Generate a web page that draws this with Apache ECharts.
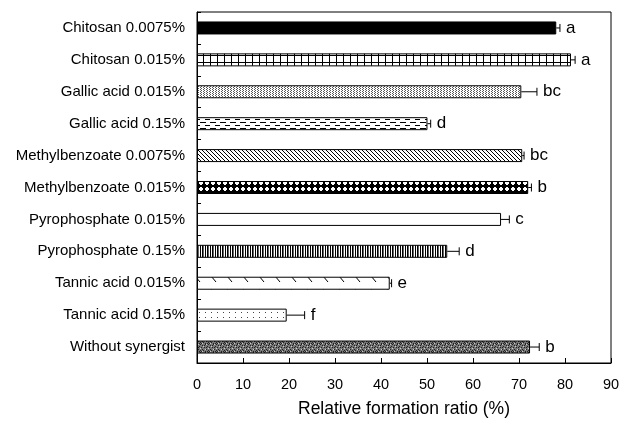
<!DOCTYPE html>
<html><head><meta charset="utf-8">
<script src="https://cdn.jsdelivr.net/npm/echarts@6/dist/echarts.min.js"></script>
<style>html,body{margin:0;padding:0;background:#fff}#c{width:632px;height:423px}</style>
</head><body><div id="c"></div>
<script>
const categories = ["Chitosan 0.0075%","Chitosan 0.015%","Gallic acid 0.015%","Gallic acid 0.15%","Methylbenzoate 0.0075%","Methylbenzoate 0.015%","Pyrophosphate 0.015%","Pyrophosphate 0.15%","Tannic acid 0.015%","Tannic acid 0.15%","Without synergist"];
const values = [78.1, 81.3, 70.5, 50.1, 70.7, 72.0, 66.1, 54.4, 41.9, 19.5, 72.4];
const errors = [0.8, 0.9, 3.4, 0.7, 0.4, 0.7, 1.8, 2.6, 0.4, 3.9, 2.0];
const letters = ["a","a","bc","d","bc","b","c","d","e","f","b"];
const xTicks = {min: 0, max: 90, interval: 10};

function mk(w, h, draw) {
  const c = document.createElement('canvas'); c.width = w; c.height = h;
  const g = c.getContext('2d'); g.fillStyle = '#fff'; g.fillRect(0, 0, w, h);
  g.fillStyle = '#000'; g.strokeStyle = '#000'; g.lineWidth = 1; draw(g); return c;
}
const pats = [
  '#000',
  mk(7, 7, g => { g.fillRect(0, 0, 1, 7); g.fillRect(0, 6, 7, 1); }),
  mk(3, 2, g => { g.fillStyle = '#555'; g.fillRect(0, 0, 1, 1); g.fillRect(2, 1, 1, 1); }),
  mk(10, 6, g => { g.fillRect(0, 2, 6, 1); g.fillRect(5, 5, 5, 1); }),
  mk(4, 4, g => { for (let i = 0; i < 4; i++) g.fillRect(i, i, 1, 1); }),
  mk(6, 6, g => { g.fillStyle = '#000'; g.fillRect(0, 0, 6, 6); g.fillStyle = '#fff'; g.fillRect(2, 1, 2, 1); g.fillRect(1, 2, 4, 2); g.fillRect(2, 4, 2, 1); }),
  '#fff',
  mk(5, 4, g => { g.fillRect(0, 0, 1, 4); g.fillRect(2, 0, 1, 4); g.fillStyle = '#666'; g.fillRect(3, 0, 1, 4); }),
  mk(16, 13, g => { g.beginPath(); g.moveTo(3, 3); g.lineTo(8, 9); g.stroke(); }),
  mk(6, 5, g => { g.fillStyle = '#444'; g.fillRect(1, 2, 1, 1); }),
  (function(){ return mk(8, 8, g => { const pts=[[0,0],[2,1],[5,0],[7,2],[1,3],[4,3],[6,5],[0,6],[3,6],[5,7],[2,5],[7,7],[4,1],[1,7],[6,3]]; g.fillStyle='#777'; g.fillRect(0,0,8,8); g.fillStyle='#222'; pts.forEach(p=>g.fillRect(p[0],p[1],1,1)); g.fillStyle='#ccc'; [[3,2],[6,0],[0,4],[5,5],[2,7]].forEach(p=>g.fillRect(p[0],p[1],1,1)); }); })()
];

const barData = values.map((v, i) => ({
  value: v,
  itemStyle: { color: typeof pats[i] === 'string' ? pats[i] : { image: pats[i], repeat: 'repeat' }, borderColor: '#000', borderWidth: 1 }
}));
const errData = values.map((v, i) => [v, i, errors[i], letters[i]]);

const chart = echarts.init(document.getElementById('c'), null, { renderer: 'canvas' });
chart.setOption({
  animation: false,
  grid: { left: 197, right: 21, top: 12, bottom: 60, show: true, borderColor: '#000', borderWidth: 1, containLabel: false, outerBoundsMode: 'none' },
  xAxis: {
    type: 'value', min: xTicks.min, max: xTicks.max, interval: xTicks.interval,
    name: 'Relative formation ratio (%)', nameLocation: 'middle', nameGap: 37,
    nameTextStyle: { fontFamily: 'Liberation Sans', fontSize: 17.5, color: '#000' },
    axisLine: { show: true, lineStyle: { color: '#000' } },
    axisTick: { show: true, inside: true, length: 5, lineStyle: { color: '#000' } },
    axisLabel: { fontFamily: 'Liberation Sans', fontSize: 14.5, color: '#000', margin: 14 },
    splitLine: { show: false }
  },
  yAxis: {
    type: 'category', data: categories, inverse: true,
    axisLine: { show: true, lineStyle: { color: '#000' } },
    axisTick: { show: true, inside: true, length: 4, lineStyle: { color: '#000' } },
    axisLabel: { fontFamily: 'Liberation Sans', fontSize: 15, color: '#000', margin: 12 }
  },
  series: [
    { type: 'bar', data: barData, barWidth: 13 },
    {
      type: 'custom', data: errData, encode: { x: 0, y: 1 }, z: 3,
      renderItem: function (params, api) {
        const v = api.value(0), c = api.value(1), e = api.value(2);
        const p0 = api.coord([v, c]), p1 = api.coord([v + e, c]);
        const lt = letters[params.dataIndex];
        return { type: 'group', children: [
          { type: 'line', shape: { x1: p0[0], y1: p0[1], x2: p1[0], y2: p1[1] }, style: { stroke: '#000', lineWidth: 1 } },
          { type: 'line', shape: { x1: p1[0], y1: p1[1] - 4, x2: p1[0], y2: p1[1] + 4 }, style: { stroke: '#000', lineWidth: 1 } },
          { type: 'text', x: p1[0] + 6, y: p1[1], style: { text: lt, fontFamily: 'Liberation Sans', fontSize: 17, fill: '#000', align: 'left', verticalAlign: 'middle' } }
        ]};
      }
    }
  ]
});
</script></body></html>
